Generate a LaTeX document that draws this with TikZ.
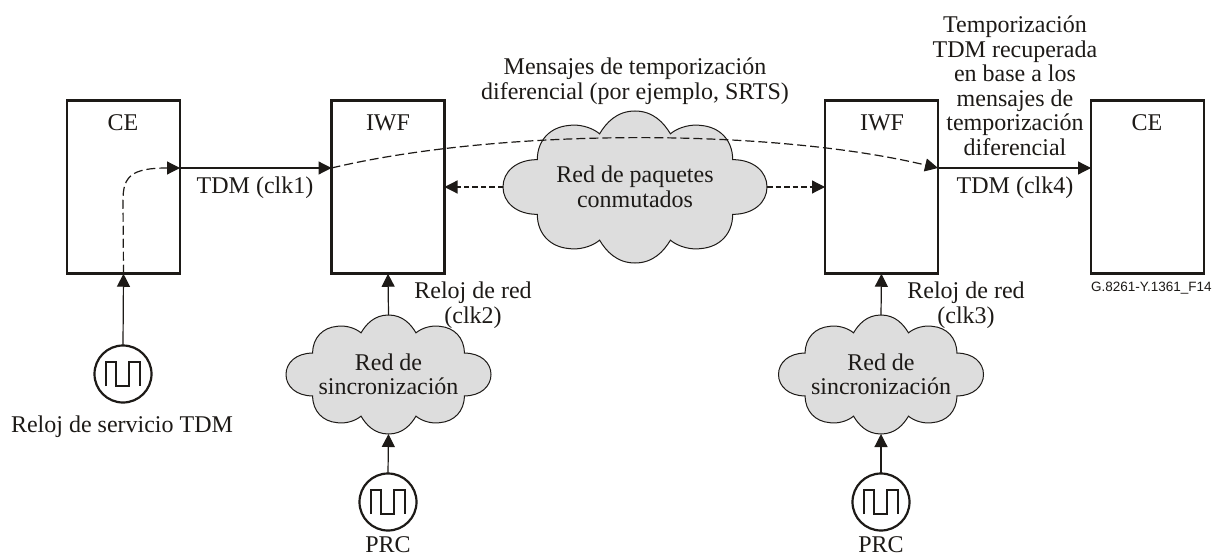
\documentclass[tikz,border=0pt]{standalone}
\usepackage{fontspec}
\setmainfont{Liberation Serif}
\newfontfamily\refsans{Liberation Sans}
\usetikzlibrary{arrows.meta,shapes.geometric}
\definecolor{ink}{HTML}{1D1A17}
\definecolor{cloudgray}{HTML}{DDDDDD}
\tikzset{
  x=1pt,y=-1pt,
  every node/.style={inner sep=0pt,outer sep=0pt,font=\fontsize{24}{24.5}\selectfont,text=ink},
  box/.style={draw=ink,line width=2.8pt,minimum width=113pt,minimum height=173.5pt},
  conn/.style={draw=ink,line width=1.2pt,-{Triangle[length=13pt,width=13pt]}},
  dashconn/.style={conn,dash pattern=on 9pt off 4pt},
  shortdash/.style={conn,dash pattern=on 5.5pt off 3pt},
  cloudnode/.style={ellipse,align=center},
  clocknode/.style={circle,draw=ink,line width=2.2pt,minimum size=57pt},
  wave/.style={draw=ink,line width=2pt,line join=miter},
}
% unit cloud with half-extents #3,#4 centred on #1,#2
\newcommand{\cloudshape}[4]{%
  \begin{scope}[shift={(#1,#2)},xscale=#3,yscale=#4]
    \filldraw[fill=cloudgray,draw=ink,line width=1pt]
      (0,-1) .. controls (.14,-1) and (.22,-.84) .. (.268,-.70)
      .. controls (.33,-.79) and (.43,-.83) .. (.50,-.81)
      .. controls (.64,-.79) and (.74,-.62) .. (.74,-.36)
      .. controls (.90,-.36) and (1,-.20) .. (1,0)
      .. controls (1,.20) and (.90,.36) .. (.74,.36)
      .. controls (.74,.62) and (.64,.79) .. (.50,.81)
      .. controls (.43,.83) and (.33,.79) .. (.268,.70)
      .. controls (.22,.84) and (.14,1) .. (0,1)
      .. controls (-.14,1) and (-.22,.84) .. (-.268,.70)
      .. controls (-.33,.79) and (-.43,.83) .. (-.50,.81)
      .. controls (-.64,.79) and (-.74,.62) .. (-.74,.36)
      .. controls (-.90,.36) and (-1,.20) .. (-1,0)
      .. controls (-1,-.20) and (-.90,-.36) .. (-.74,-.36)
      .. controls (-.74,-.62) and (-.64,-.79) .. (-.50,-.81)
      .. controls (-.43,-.83) and (-.33,-.79) .. (-.268,-.70)
      .. controls (-.22,-.84) and (-.14,-1) .. (0,-1) -- cycle;
  \end{scope}}
\newcommand{\squarewave}[1]{%
  \draw[wave] ([shift={(-17,12)}]#1.center) -- ([shift={(-17,-12)}]#1.center)
    -- ([shift={(-7,-12)}]#1.center) -- ([shift={(-7,12)}]#1.center)
    -- ([shift={(6,12)}]#1.center) -- ([shift={(6,-12)}]#1.center)
    -- ([shift={(17,-12)}]#1.center) -- ([shift={(17,12)}]#1.center);}
\begin{document}
\begin{tikzpicture}
\useasboundingbox[fill=white] (0,0) rectangle (1229,556);
% clouds
\cloudshape{635}{187}{132}{76}
\cloudshape{388.5}{374.5}{102.5}{59.5}
\cloudshape{881}{374.5}{102.5}{59.5}
\node[cloudnode,minimum width=264pt,minimum height=152pt] (pkt) at (635,187) {Red de paquetes\\conmutados};
\node[cloudnode,minimum width=205pt,minimum height=119pt] (sync1) at (388.5,374.5) {Red de\\sincronización};
\node[cloudnode,minimum width=205pt,minimum height=119pt] (sync2) at (881,374.5) {Red de\\sincronización};
% boxes
\node[box] (ce1) at (123.5,187) {};
\node[box] (iwf1) at (388,187) {};
\node[box] (iwf2) at (881.5,187) {};
\node[box] (ce2) at (1147.5,187) {};
\node (ce1t) at (123,123) {CE};
\node (iwf1t) at (388,123) {IWF};
\node (iwf2t) at (882,123) {IWF};
\node (ce2t) at (1147,123) {CE};
% clocks
\node[clocknode] (clk0) at (123,374) {};
\node[clocknode] (clka) at (388,502) {};
\node[clocknode] (clkb) at (881,502) {};
\squarewave{clk0}\squarewave{clka}\squarewave{clkb}
% connection points
\coordinate (ce1out) at ([yshift=19pt]ce1.east);
\coordinate (iwf1in) at ([yshift=19pt]iwf1.west);
\coordinate (iwf2out) at ([yshift=19pt]iwf2.east);
\coordinate (ce2in) at ([yshift=19pt]ce2.west);
% connectors
\draw[conn] (ce1out) -- (iwf1in);
\draw[conn] (iwf2out) -- (ce2in);
\draw[dashconn] (ce1.south) -- (123,200) .. controls (123,176) and (132,168) .. (ce1out);
\draw[dashconn] (iwf1in) .. controls (500,128) and (770,128) .. (iwf2out);
\draw[shortdash] (pkt.west) -- (iwf1.east |- pkt.west);
\draw[shortdash] (pkt.east) -- (iwf2.west |- pkt.east);
\draw[conn] (clk0.north) -- (ce1.south);
\draw[conn] (sync1.north) -- (iwf1.south);
\draw[conn] (sync2.north) -- (iwf2.south);
\draw[conn] (clka.north) -- (sync1.south);
\draw[conn] (clkb.north) -- (sync2.south);
% labels
\node (clk1l) at (255,188) {TDM (clk1)};
\node (clk4l) at (1015,188) {TDM (clk4)};
\node[align=center] (msg) at (635,81) {Mensajes de temporización\\diferencial (por ejemplo, SRTS)};
\node[align=center] (rec) at (1015,86) {Temporización\\TDM recuperada\\en base a los\\mensajes de\\temporización\\diferencial};
\node[align=center] (rr1) at (473,305) {Reloj de red\\(clk2)};
\node[align=center] (rr2) at (966,305) {Reloj de red\\(clk3)};
\node (svc) at (122,427) {Reloj de servicio TDM};
\node (prc1) at (388,545) {PRC};
\node (prc2) at (881,545) {PRC};
\node[anchor=west,font=\refsans\fontsize{13.5}{15}\selectfont] (fig) at (1091,288) {G.8261-Y.1361\_F14};
\end{tikzpicture}
\end{document}
